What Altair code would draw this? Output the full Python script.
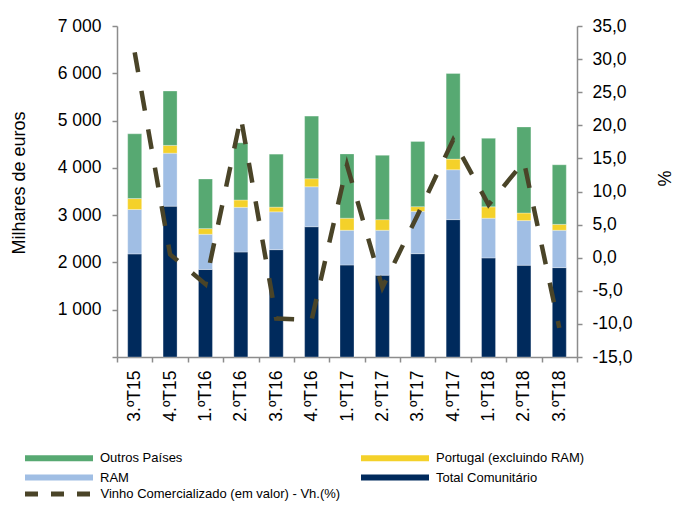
import altair as alt
import pandas as pd

quarters = ["3.ºT15", "4.ºT15", "1.ºT16", "2.ºT16", "3.ºT16", "4.ºT16", "1.ºT17",
            "2.ºT17", "3.ºT17", "4.ºT17", "1.ºT18", "2.ºT18", "3.ºT18"]
total_comunitario = [2180, 3190, 1850, 2220, 2270, 2755, 1945, 1730, 2185, 2905, 2095, 1940, 1890]
ram = [940, 1120, 745, 945, 800, 845, 735, 950, 895, 1055, 840, 945, 790]
portugal = [230, 165, 120, 155, 100, 170, 255, 225, 100, 225, 240, 160, 125]
outros = [1370, 1150, 1050, 1210, 1120, 1325, 1360, 1360, 1380, 1810, 1450, 1820, 1260]
vh = [31.0, 0.5, -4.0, 21.2, -9.2, -9.4, 14.0, -4.5, 6.5, 17.8, 8.0, 14.5, -10.6]

series_names = ["Outros Países", "Portugal (excluindo RAM)", "RAM", "Total Comunitário"]
series_colors = ["#57A972", "#F4D12A", "#A0BEE4", "#002A5C"]
line_name = "Vinho Comercializado (em valor) - Vh.(%)"
line_color = "#4A4428"

FONT = "Liberation Sans"

stack_order = {"Total Comunitário": 0, "RAM": 1, "Portugal (excluindo RAM)": 2, "Outros Países": 3}
series_values = {
    "Total Comunitário": total_comunitario,
    "RAM": ram,
    "Portugal (excluindo RAM)": portugal,
    "Outros Países": outros,
}
rows = []
for i, q in enumerate(quarters):
    for name, vals in series_values.items():
        rows.append({"quarter": q, "series": name, "value": vals[i], "ord": stack_order[name]})
bars_df = pd.DataFrame(rows)
line_df = pd.DataFrame({"quarter": quarters, "vh": vh, "serie": [line_name] * len(quarters)})

x_axis = alt.Axis(title=None, labelAngle=-90, tickBand="extent", labelFontSize=17.5,
                  labelPadding=8, tickSize=5)
x_scale = alt.Scale(paddingInner=0, paddingOuter=0)

bars = alt.Chart(bars_df).mark_bar(size=14, stroke="white", strokeWidth=0.5, strokeOpacity=0.6).encode(
    x=alt.X("quarter:N", sort=quarters, scale=x_scale, axis=x_axis),
    y=alt.Y("value:Q", stack="zero",
            scale=alt.Scale(domain=[0, 7000], nice=False),
            axis=alt.Axis(title="Milhares de euros", orient="left",
                          values=list(range(0, 7001, 1000)),
                          labelExpr="datum.value == 0 ? '' : replace(format(datum.value, ','), ',', ' ')",
                          labelFontSize=17.5, labelPadding=11, tickSize=5,
                          titleFontSize=18, titleAngle=-90, titleBaseline="middle", titleAlign="center",
                          titleX=-97.5, titleY=156.5)),
    color=alt.Color("series:N", scale=alt.Scale(domain=series_names, range=series_colors),
                    legend=alt.Legend(title=None, orient="none", legendX=-92, legendY=425.5,
                                      direction="horizontal", columns=2, columnPadding=178,
                                      rowPadding=5.5, clipHeight=13,
                                      symbolType="M-1,-0.09L1,-0.09L1,0.09L-1,0.09Z",
                                      symbolSize=4624, symbolStrokeWidth=0, symbolOpacity=1,
                                      labelOffset=7, labelFontSize=13, labelFont=FONT,
                                      labelColor="black", labelLimit=400, padding=0)),
    order=alt.Order("ord:Q", sort="ascending"),
)

line = alt.Chart(line_df).mark_line(strokeWidth=4.5, strokeDash=[20, 19], strokeCap="butt").encode(
    x=alt.X("quarter:N", sort=quarters, scale=x_scale, axis=x_axis, bandPosition=0.5),
    y=alt.Y("vh:Q", scale=alt.Scale(domain=[-15, 35], nice=False),
            axis=alt.Axis(title="%", orient="right", values=list(range(-15, 36, 5)),
                          labelExpr="replace(replace(format(datum.value, '.1f'), '.', ','), '\u2212', '-')",
                          labelFontSize=17.5, labelPadding=10, tickSize=5,
                          titleFontSize=18, titleAngle=90, titleBaseline="middle", titleAlign="center",
                          titleX=85, titleY=152)),
    stroke=alt.Stroke("serie:N", scale=alt.Scale(domain=[line_name], range=[line_color]),
                      legend=alt.Legend(title=None, orient="none", legendX=-94.5, legendY=461.5,
                                        clipHeight=13,
                                        symbolType="stroke", symbolSize=4624, symbolStrokeWidth=5,
                                        symbolDash=[13, 13], labelOffset=5, labelFontSize=13,
                                        labelFont=FONT, labelColor="black", labelLimit=400, padding=0)),
)

chart = alt.layer(bars, line).resolve_scale(y="independent").properties(
    width=460, height=331,
    padding={"left": 109, "top": 18, "right": 96, "bottom": 144},
    autosize=alt.AutoSizeParams(type="none"),
    background="white",
).configure_view(stroke=None).configure_axis(
    grid=False, domainColor="#8c8c8c", tickColor="#8c8c8c", domainWidth=1.5, tickWidth=1.5,
    labelFont=FONT, titleFont=FONT, labelColor="black", titleColor="black", titleFontWeight="normal",
)

chart.save("out.html", embed_options={"renderer": "svg", "actions": False})
